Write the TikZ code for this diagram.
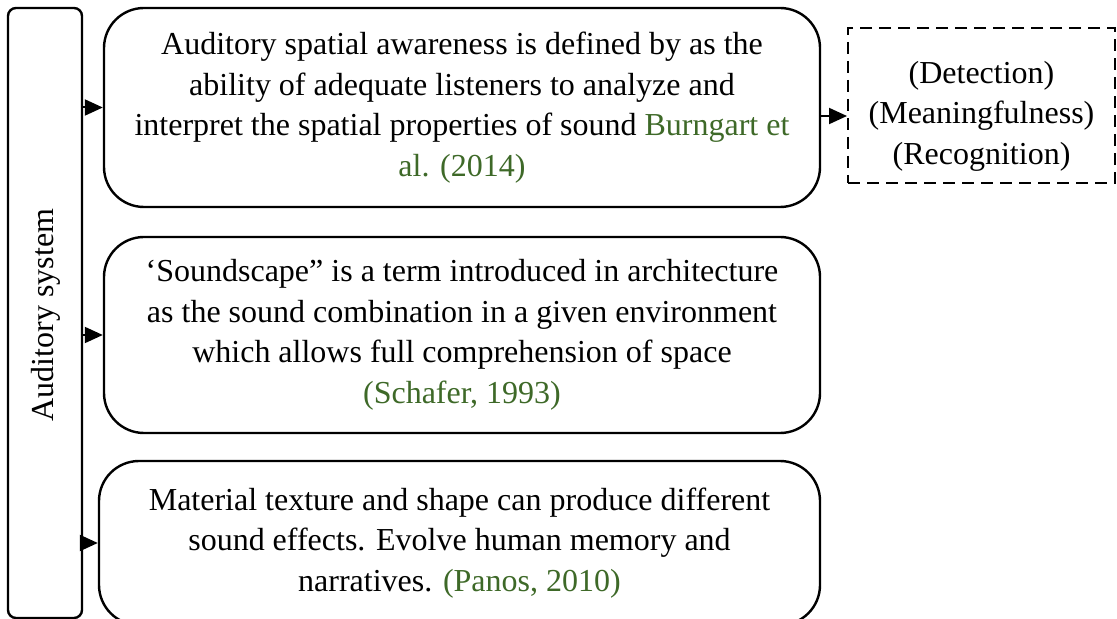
\documentclass[tikz,border=0pt]{standalone}
\usepackage{fontspec}
\setmainfont{Liberation Serif}
\usetikzlibrary{arrows.meta}
\definecolor{citegreen}{RGB}{62,105,40}

\begin{document}
\begin{tikzpicture}[x=0.5pt,y=-0.5pt,
    txt/.style={font=\fontsize{16}{20.3}\selectfont},
    blk/.style={draw,line width=1.2pt,rounded corners=20pt,align=center,inner sep=0pt,txt},
    arr/.style={-{Triangle[length=9pt,width=8pt]},line width=1pt}]
  \useasboundingbox (0,0) rectangle (1117,619);

  % Auditory system
  \node[draw,line width=1.2pt,rounded corners=4pt,minimum width=37pt,minimum height=305pt] (sys) at (45,313) {};
  \node[rotate=90,txt] (syslbl) at (46,315) {Auditory system};

  % Boxes
  \node[blk,minimum width=358pt,minimum height=99.5pt] (aware) at (462,107.5)
    {Auditory spatial awareness is defined by as the\\
     ability of adequate listeners to analyze and\\
     interpret the spatial properties of sound \textcolor{citegreen}{Burngart et}\\
     \textcolor{citegreen}{al. (2014)}};
  \node[blk,minimum width=358pt,minimum height=98pt] (scape) at (462,335)
    {‘Soundscape” is a term introduced in architecture\\
     as the sound combination in a given environment\\
     which allows full comprehension of space\\
     \textcolor{citegreen}{(Schafer, 1993)}};
  \node[blk,minimum width=360.5pt,minimum height=82pt] (mat) at (459.5,543)
    {Material texture and shape can produce different\\
     sound effects. Evolve human memory and\\
     narratives. \textcolor{citegreen}{(Panos, 2010)}};

  % Result
  \node[draw,dash pattern=on 6pt off 3.5pt,line width=1pt,minimum width=133.5pt,minimum height=77.5pt] (res) at (981.5,105.5) {};
  \node[align=center,inner sep=0pt,txt] (reslbl) at (981.5,116)
    {(Detection)\\(Meaningfulness)\\(Recognition)};

  % Arrows
  \draw[arr] (sys.east |- aware.west) -- (aware.west);
  \draw[arr] (sys.east |- scape.west) -- (scape.west);
  \draw[arr] (sys.east |- mat.west) -- (mat.west);
  \draw[arr] (aware.east |- reslbl) -- (res.west |- reslbl);
\end{tikzpicture}
\end{document}
